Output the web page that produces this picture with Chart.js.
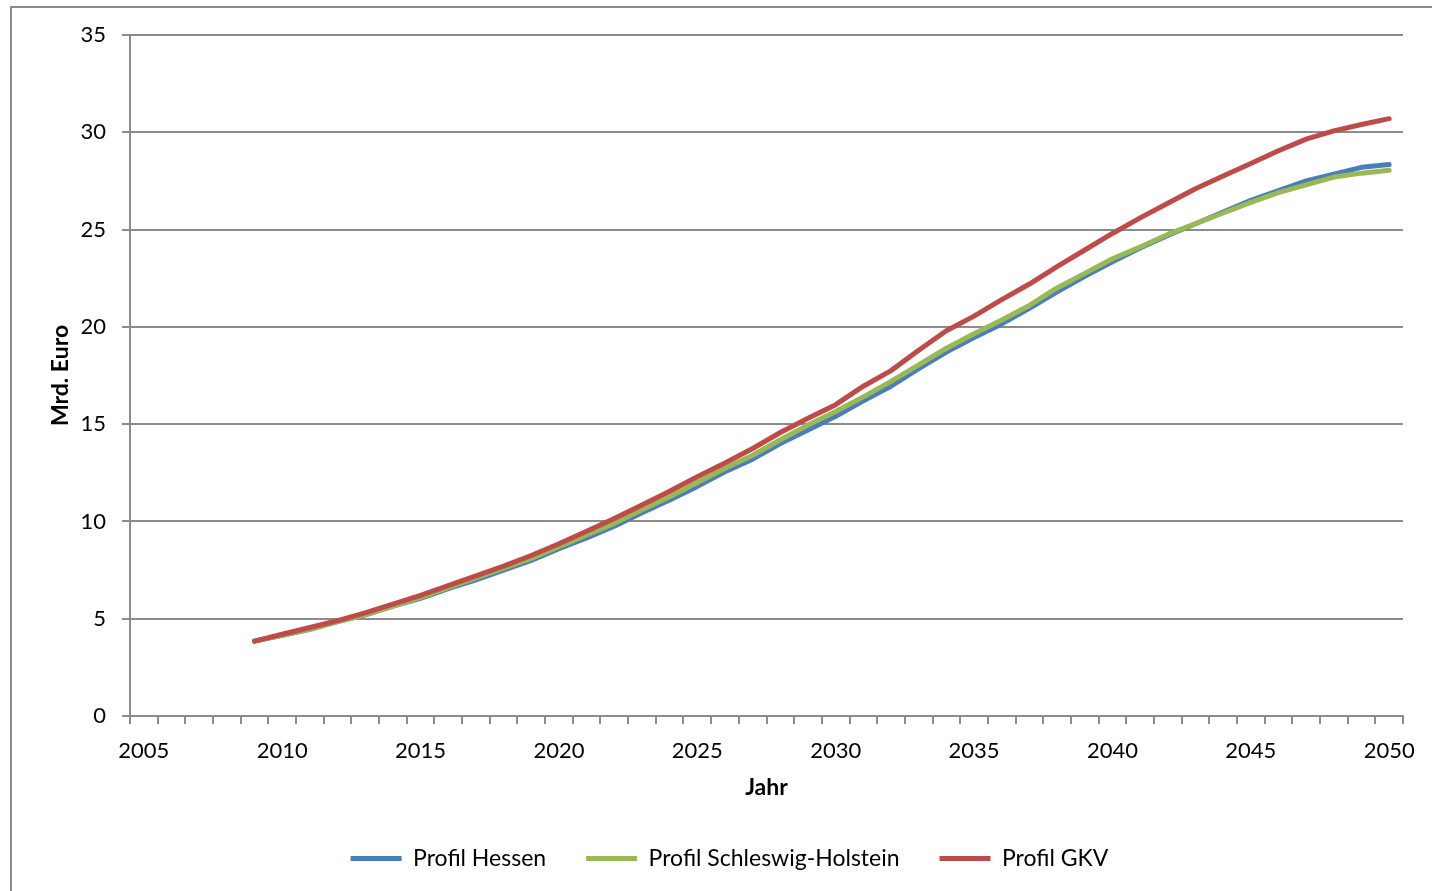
<!DOCTYPE html>
<html>
<head>
<meta charset="utf-8">
<script src="https://cdn.jsdelivr.net/npm/chart.js@4.4.1/dist/chart.umd.min.js"></script>
<style>
  html, body { margin: 0; padding: 0; background: #fff; overflow: hidden; }
  #wrap { position: relative; width: 1432px; height: 891px; }
  #frame { position: absolute; left: 10px; top: 6px; width: 1500px; height: 1000px;
           border: 2px solid #8c8c8c; box-sizing: border-box; }
  #chart { position: absolute; left: 0; top: 0; }
</style>
</head>
<body>
<div id="wrap">
  <div id="frame"></div>
  <canvas id="chart" width="1432" height="891"></canvas>
</div>
<script>
// Jahre 2005 bis 2050, Werte erst ab 2009
var jahre = [];
for (var j = 2005; j <= 2050; j++) jahre.push(String(j));

var profilHessen = [null, null, null, null,
  3.85, 4.15, 4.45, 4.85, 5.2, 5.65, 6.05, 6.55, 7.0, 7.5, 8.0, 8.6, 9.15, 9.75,
  10.45, 11.1, 11.8, 12.55, 13.2, 14.0, 14.7, 15.4, 16.2, 16.95, 17.85, 18.7, 19.45,
  20.15, 20.95, 21.8, 22.6, 23.35, 24.05, 24.7, 25.3, 25.9, 26.5, 27.0, 27.5, 27.85, 28.2, 28.35];

var profilSH = [null, null, null, null,
  3.85, 4.15, 4.45, 4.85, 5.2, 5.65, 6.1, 6.6, 7.1, 7.6, 8.1, 8.7, 9.3, 9.9,
  10.6, 11.27, 12.0, 12.73, 13.4, 14.2, 14.95, 15.65, 16.4, 17.2, 18.05, 18.9, 19.65,
  20.35, 21.1, 22.0, 22.75, 23.5, 24.1, 24.75, 25.3, 25.85, 26.4, 26.9, 27.3, 27.7, 27.9, 28.05];

var profilGKV = [null, null, null, null,
  3.85, 4.2, 4.55, 4.9, 5.3, 5.75, 6.2, 6.7, 7.2, 7.7, 8.25, 8.85, 9.5, 10.15,
  10.85, 11.55, 12.3, 13.0, 13.75, 14.57, 15.3, 16.0, 16.95, 17.75, 18.8, 19.8, 20.55,
  21.4, 22.2, 23.1, 23.95, 24.8, 25.6, 26.35, 27.1, 27.75, 28.4, 29.05, 29.65, 30.07, 30.4, 30.7];

var yTicks = [0, 5, 10, 15, 20, 25, 30, 35];

var grau = '#8c8c8c';
var schrift = 'Lato, "Open Sans", sans-serif';

function linie(label, data, farbe, order) {
  return {
    label: label,
    data: data,
    borderColor: farbe,
    backgroundColor: farbe,
    borderWidth: 5,
    borderCapStyle: 'round',
    borderJoinStyle: 'round',
    pointRadius: 0,
    tension: 0,
    fill: false,
    order: order
  };
}

// Legende etwas nach rechts schieben
var legendeVersatz = {
  id: 'legendeVersatz',
  afterLayout: function (chart) {
    chart.legend.left += 28;
    chart.legend.right += 28;
  }
};

new Chart(document.getElementById('chart'), {
  type: 'line',
  data: {
    labels: jahre,
    datasets: [
      linie('Profil Hessen', profilHessen, '#4a7ebb', 2),
      linie('Profil Schleswig-Holstein', profilSH, '#98b954', 1),
      linie('Profil GKV', profilGKV, '#be4b48', 0)
    ]
  },
  plugins: [legendeVersatz],
  options: {
    responsive: false,
    animation: false,
    layout: { padding: { left: 0, right: 29, top: 35, bottom: 11 } },
    plugins: {
      tooltip: { enabled: false },
      legend: {
        position: 'bottom',
        labels: {
          usePointStyle: true,
          pointStyle: 'line',
          pointStyleWidth: 51,
          boxHeight: 20,
          padding: 40,
          color: '#000',
          font: { family: schrift, size: 23 },
          sort: function (a, b) { return a.datasetIndex - b.datasetIndex; }
        }
      }
    },
    scales: {
      x: {
        offset: true,
        grid: { display: true, drawOnChartArea: false, drawTicks: true, tickLength: 8,
                color: grau, lineWidth: 2, offset: true },
        border: { display: true, color: grau, width: 2 },
        ticks: {
          autoSkip: false, maxRotation: 0, padding: 14, color: '#000',
          font: { family: schrift, size: 22 },
          callback: function (v, i) { var y = Number(jahre[i]); return y % 5 === 0 ? jahre[i] : ''; }
        },
        title: { display: true, text: 'Jahr', color: '#000',
                 font: { family: schrift, size: 23, weight: 'bold' },
                 padding: { top: 0, bottom: 6 } },
        afterFit: function (s) { s.height = 91; }
      },
      y: {
        min: 0, max: 35,
        afterBuildTicks: function (s) { s.ticks = yTicks.map(function (v) { return { value: v }; }); },
        grid: { color: grau, lineWidth: 2, drawTicks: true, tickLength: 8 },
        border: { display: true, color: grau, width: 2 },
        ticks: { padding: 16, color: '#000', font: { family: schrift, size: 22 } },
        title: { display: true, text: 'Mrd. Euro', color: '#000',
                 font: { family: schrift, size: 23, weight: 'bold' },
                 padding: { top: 47, bottom: 0 } },
        afterFit: function (s) { s.width = 130; }
      }
    }
  }
});
</script>
</body>
</html>
